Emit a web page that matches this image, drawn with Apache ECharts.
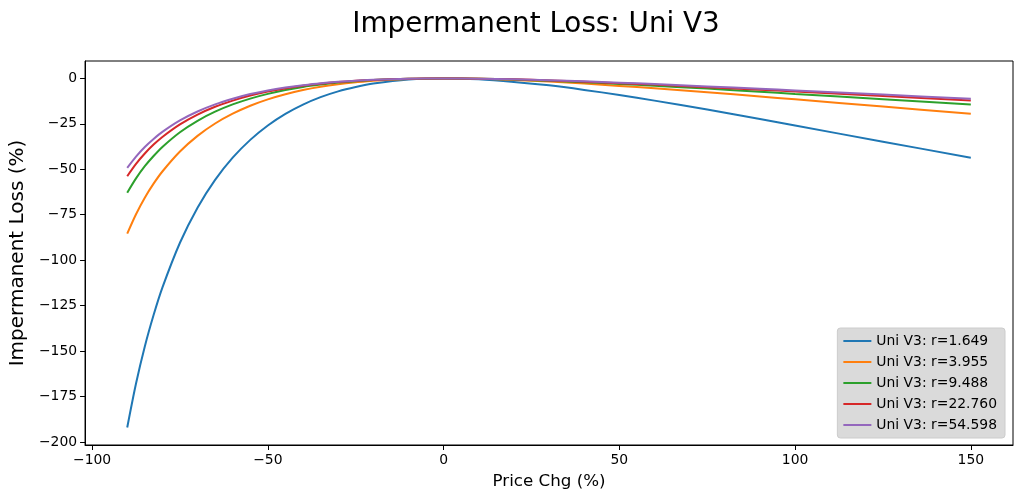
<!DOCTYPE html>
<html>
<head>
<meta charset="utf-8">
<script src="https://cdn.jsdelivr.net/npm/echarts@6/dist/echarts.min.js"></script>
<style>
  html, body { margin: 0; padding: 0; background: #fff; }
  #chart { width: 1022px; height: 502px; }
</style>
</head>
<body>
<div id="chart"></div>
<script>
// price change (%) sample points
const priceChg = [-90, -87.5, -85, -82.5, -80, -75, -70, -65, -60, -55, -50, -45, -40, -35, -30, -25, -20, -10,
                  0, 10, 20, 30, 40, 50, 60, 75, 90, 100, 125, 150]

const names = ['Uni V3: r=1.649', 'Uni V3: r=3.955', 'Uni V3: r=9.488', 'Uni V3: r=22.760', 'Uni V3: r=54.598']
const colors = ['#1f77b4', '#ff7f0e', '#2ca02c', '#d62728', '#9467bd']

// impermanent loss (%) per range width
const ilR1649 = [-192.1, -167.9, -147.5, -130.2, -115.1, -90.4, -71.1, -55.8, -43.6, -33.8, -25.9, -19.5, -14.4, -10.3, -7.1, -4.7, -2.8, -0.6,
                 0, -0.5, -1.9, -3.8, -6.3, -9.1, -12.2, -17.1, -22.3, -25.9, -34.8, -43.6]
const ilR3955 = [-85.4, -74.7, -65.6, -57.9, -51.2, -40.2, -31.6, -24.8, -19.4, -15.0, -11.5, -8.7, -6.4, -4.6, -3.2, -2.1, -1.2, -0.3,
                 0, -0.2, -0.8, -1.7, -2.8, -4.1, -5.4, -7.6, -9.9, -11.5, -15.5, -19.4]
const ilR9488 = [-62.9, -55.0, -48.3, -42.7, -37.7, -29.6, -23.3, -18.3, -14.3, -11.1, -8.5, -6.4, -4.7, -3.4, -2.3, -1.5, -0.9, -0.2,
                 0, -0.2, -0.6, -1.3, -2.1, -3.0, -4.0, -5.6, -7.3, -8.5, -11.4, -14.3]
const ilR22760 = [-53.8, -47.0, -41.3, -36.4, -32.2, -25.3, -19.9, -15.6, -12.2, -9.4, -7.2, -5.5, -4.0, -2.9, -2.0, -1.3, -0.8, -0.2,
                  0, -0.1, -0.5, -1.1, -1.8, -2.6, -3.4, -4.8, -6.2, -7.2, -9.7, -12.2]
const ilR54598 = [-49.2, -43.0, -37.7, -33.3, -29.4, -23.1, -18.2, -14.3, -11.2, -8.6, -6.6, -5.0, -3.7, -2.6, -1.8, -1.2, -0.7, -0.2,
                  0, -0.1, -0.5, -1.0, -1.6, -2.3, -3.1, -4.4, -5.7, -6.6, -8.9, -11.2]

const xTicks = [-100, -50, 0, 50, 100, 150]
const yTicks = [-200, -175, -150, -125, -100, -75, -50, -25, 0]

const allSeries = [ilR1649, ilR3955, ilR9488, ilR22760, ilR54598]

const fmt = v => (v < 0 ? '\u2212' + Math.abs(v) : String(v))
const font = 'DejaVu Sans'

const chart = echarts.init(document.getElementById('chart'))

const option = {
    backgroundColor: '#fff',
    animation: false,
    title: {
        text: 'Impermanent Loss: Uni V3',
        left: 531,
        top: 6,
        textAlign: 'center',
        textStyle: { fontFamily: font, fontSize: 27.8, fontWeight: 'normal', color: '#000' }
    },
    grid: {
        left: 83, right: 9, top: 61, bottom: 57,
        show: true, borderColor: '#000', borderWidth: 1, backgroundColor: 'transparent'
    },
    legend: {
        orient: 'vertical',
        right: 17,
        bottom: 64,
        data: names,
        icon: 'rect',
        itemWidth: 28,
        itemHeight: 2,
        itemGap: 7,
        padding: [6, 8, 6, 6],
        backgroundColor: '#dadada',
        borderColor: '#cccccc',
        borderWidth: 1,
        borderRadius: 3,
        textStyle: { fontFamily: font, fontSize: 13.9, color: '#000' }
    },
    xAxis: {
        type: 'value',
        min: -102,
        max: 162,
        name: 'Price Chg (%)',
        nameLocation: 'middle',
        nameGap: 28,
        nameTextStyle: { fontFamily: font, fontSize: 16.7, color: '#000' },
        splitLine: { show: false },
        axisLine: { show: true, onZero: false, lineStyle: { color: '#000', width: 1 } },
        axisTick: { show: true, length: 5, lineStyle: { color: '#000' }, customValues: xTicks },
        axisLabel: {
            customValues: xTicks,
            formatter: fmt,
            margin: 8,
            fontFamily: font, fontSize: 13.9, color: '#000'
        }
    },
    yAxis: {
        type: 'value',
        min: -201.7,
        max: 9.6,
        name: 'Impermanent Loss (%)',
        nameLocation: 'middle',
        nameGap: 55,
        nameTextStyle: { fontFamily: font, fontSize: 20, color: '#000' },
        splitLine: { show: false },
        axisLine: { show: true, onZero: false, lineStyle: { color: '#000', width: 1 } },
        axisTick: { show: true, length: 5, lineStyle: { color: '#000' }, customValues: yTicks },
        axisLabel: {
            customValues: yTicks,
            formatter: fmt,
            margin: 8,
            fontFamily: font, fontSize: 13.9, color: '#000'
        }
    },
    series: allSeries.map((vals, i) => ({
        name: names[i],
        type: 'line',
        data: priceChg.map((x, j) => [x, vals[j]]),
        smooth: 0.3,
        symbol: 'none',
        lineStyle: { width: 2, color: colors[i] },
        itemStyle: { color: colors[i] }
    }))
}

chart.setOption(option)
</script>
</body>
</html>
